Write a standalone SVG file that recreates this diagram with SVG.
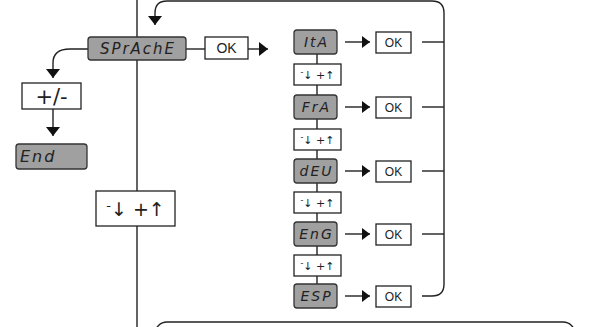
<svg xmlns="http://www.w3.org/2000/svg" width="589" height="327" viewBox="0 0 589 327">
<style>
.ln{fill:none;stroke:#222;stroke-width:1.4}
.gray{fill:#a0a0a0;stroke:#333;stroke-width:1.3}
.wbox{fill:#fff;stroke:#222;stroke-width:1.3}
.seg{font-family:"DejaVu Sans",sans-serif;font-style:italic;font-size:14px;fill:#222;letter-spacing:2px}
.ok{font-family:"Liberation Sans",Arial,sans-serif;font-size:12px;fill:#222;text-anchor:middle}
.ud{font-family:"DejaVu Sans",sans-serif;font-size:11px;fill:#222;text-anchor:middle}
</style>
<defs>
<marker id="ah" markerUnits="userSpaceOnUse" markerWidth="16" markerHeight="16" refX="9" refY="8" orient="auto">
<path d="M0,1 L9,8 L0,15 Z" fill="#111"/>
</marker>
<marker id="ahs" markerUnits="userSpaceOnUse" markerWidth="12" markerHeight="14" refX="8" refY="7" orient="auto">
<path d="M0,1 L8,7 L0,13 Z" fill="#111"/>
</marker>
</defs>
<g id="connectors">
<line class="ln" x1="137" y1="0" x2="137" y2="327"/>
<path class="ln" d="M444,284 V13 Q444,1 432,1 H167 Q155,1 155,13 V25" marker-end="url(#ah)"/>
<path class="ln" d="M422,296 H432 Q444,296 444,284"/>
<path class="ln" d="M88,49 H70 Q53,49 53,63 V78" marker-end="url(#ah)"/>
<path class="ln" d="M53,109 V136" marker-end="url(#ah)"/>
<path class="ln" d="M186,49 H205"/>
<path class="ln" d="M248,49 H268" marker-end="url(#ah)"/>
<line class="ln" x1="317" y1="54" x2="317" y2="284"/>
<path class="ln" d="M345,42 H370" marker-end="url(#ahs)"/>
<path class="ln" d="M345,107 H370" marker-end="url(#ahs)"/>
<path class="ln" d="M345,171 H370" marker-end="url(#ahs)"/>
<path class="ln" d="M345,234 H370" marker-end="url(#ahs)"/>
<path class="ln" d="M345,296 H370" marker-end="url(#ahs)"/>
<path class="ln" d="M422,42 H444"/>
<path class="ln" d="M422,107 H444"/>
<path class="ln" d="M422,171 H444"/>
<path class="ln" d="M422,234 H444"/>
</g>
<g id="sprache"><rect class="gray" x="88" y="37" width="98" height="23" rx="3"/><text class="seg" x="138" y="54" text-anchor="middle" style="font-size:15px">SPrAchE</text></g>
<g id="ok-main"><rect class="wbox" x="205" y="37" width="43" height="22"/><text class="ok" x="226.5" y="53" style="font-size:14px">OK</text></g>
<g id="plusminus"><rect class="wbox" x="22" y="83" width="59" height="26"/><text x="51.5" y="103.5" font-family="'DejaVu Sans',sans-serif" font-size="21" text-anchor="middle" fill="#222">+/-</text></g>
<g id="end"><rect class="gray" x="16" y="144" width="71" height="25" rx="3"/><text class="seg" x="20" y="162" style="font-size:16px">End</text></g>
<g id="ud-main"><rect class="wbox" x="96" y="191" width="79" height="35"/><text x="135.5" y="216" font-family="'DejaVu Sans',sans-serif" font-size="19" text-anchor="middle" fill="#222"><tspan font-size="13" dy="-6">-</tspan><tspan dy="6">↓ +↑</tspan></text></g>
<g id="ita"><rect class="gray" x="294" y="30" width="43" height="24" rx="3"/><text class="seg" x="316.5" y="47" text-anchor="middle">ItA</text></g>
<g id="ud1"><rect class="wbox" x="294" y="64" width="47" height="21"/><text class="ud" x="317.5" y="79"><tspan font-size="8" dy="-4">-</tspan><tspan dy="4">↓ +↑</tspan></text></g>
<g id="fra"><rect class="gray" x="294" y="95" width="43" height="24" rx="3"/><text class="seg" x="316.5" y="112" text-anchor="middle">FrA</text></g>
<g id="ud2"><rect class="wbox" x="294" y="129" width="47" height="21"/><text class="ud" x="317.5" y="144"><tspan font-size="8" dy="-4">-</tspan><tspan dy="4">↓ +↑</tspan></text></g>
<g id="deu"><rect class="gray" x="294" y="159" width="43" height="24" rx="3"/><text class="seg" x="316.5" y="176" text-anchor="middle">dEU</text></g>
<g id="ud3"><rect class="wbox" x="294" y="192" width="47" height="21"/><text class="ud" x="317.5" y="207"><tspan font-size="8" dy="-4">-</tspan><tspan dy="4">↓ +↑</tspan></text></g>
<g id="eng"><rect class="gray" x="294" y="222" width="43" height="24" rx="3"/><text class="seg" x="316.5" y="239" text-anchor="middle">EnG</text></g>
<g id="ud4"><rect class="wbox" x="294" y="255" width="47" height="21"/><text class="ud" x="317.5" y="270"><tspan font-size="8" dy="-4">-</tspan><tspan dy="4">↓ +↑</tspan></text></g>
<g id="esp"><rect class="gray" x="294" y="284" width="43" height="24" rx="3"/><text class="seg" x="316.5" y="301" text-anchor="middle">ESP</text></g>
<g id="ok1"><rect class="wbox" x="376" y="32" width="35" height="21"/><text class="ok" x="393.5" y="47">OK</text></g>
<g id="ok2"><rect class="wbox" x="376" y="97" width="35" height="21"/><text class="ok" x="393.5" y="112">OK</text></g>
<g id="ok3"><rect class="wbox" x="376" y="161" width="35" height="21"/><text class="ok" x="393.5" y="176">OK</text></g>
<g id="ok4"><rect class="wbox" x="376" y="224" width="35" height="21"/><text class="ok" x="393.5" y="239">OK</text></g>
<g id="ok5"><rect class="wbox" x="376" y="286" width="35" height="21"/><text class="ok" x="393.5" y="301">OK</text></g>
<g id="bottom-panel"><rect class="ln" x="155" y="322" width="420" height="30" rx="12"/></g>
</svg>
